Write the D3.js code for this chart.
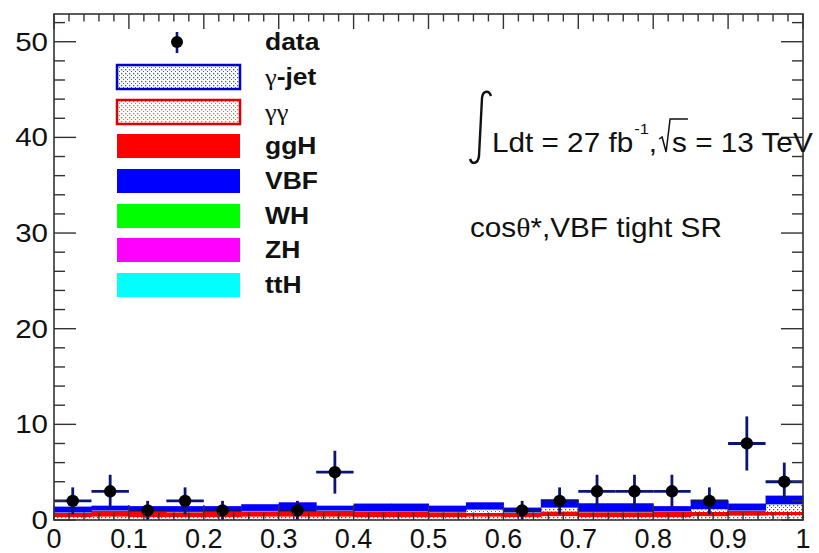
<!DOCTYPE html>
<html lang="en">
<head>
    <meta charset="UTF-8">
    <title>cos theta* VBF tight SR</title>
    <script src="https://d3js.org/d3.v7.min.js"></script>
    <style>
        body { margin: 0; background: white; font-family: "Liberation Sans", Arial, sans-serif; }
        svg { display: block; }
        .greek { font-family: "Liberation Serif", "DejaVu Serif", serif; font-weight: normal; }
    </style>
</head>
<body>
    <svg width="819" height="553"></svg>

    <script>
        const width = 819, height = 553;
        const svg = d3.select("svg");

        // bin low edges (width 0.05)
        const binLow = [0, 0.05, 0.1, 0.15, 0.2, 0.25, 0.3, 0.35, 0.4, 0.45,
                        0.5, 0.55, 0.6, 0.65, 0.7, 0.75, 0.8, 0.85, 0.9, 0.95];
        const binWidth = 0.05;

        // stacked backgrounds / signals
        const gamgam = [0.3, 0.35, 0.3, 0.3, 0.3, 0.35, 0.35, 0.35, 0.3, 0.3, 0.3, 0.35, 0.3, 0.4, 0.3, 0.3, 0.3, 0.4, 0.45, 0.5];
        const ggH    = [0.45, 0.6, 0.55, 0.5, 0.55, 0.55, 0.55, 0.6, 0.55, 0.55, 0.5, 0.4, 0.45, 0.5, 0.5, 0.5, 0.55, 0.45, 0.5, 0.35];
        const gamjet = [0, 0, 0, 0, 0, 0, 0, 0, 0, 0, 0, 0.3, 0, 0.35, 0, 0, 0, 0.25, 0, 0.75];
        const WH     = [0.02, 0.02, 0.02, 0.02, 0.02, 0.02, 0.02, 0.02, 0.02, 0.02, 0.02, 0.02, 0.02, 0.02, 0.02, 0.02, 0.02, 0.02, 0.02, 0.02];
        const ZH     = [0.02, 0.02, 0.02, 0.02, 0.02, 0.02, 0.02, 0.02, 0.02, 0.02, 0.02, 0.02, 0.02, 0.02, 0.02, 0.02, 0.02, 0.02, 0.02, 0.02];
        const ttH    = [0.01, 0.01, 0.01, 0.01, 0.01, 0.01, 0.01, 0.01, 0.01, 0.01, 0.01, 0.01, 0.01, 0.01, 0.01, 0.01, 0.01, 0.01, 0.01, 0.01];
        const VBF    = [0.6, 0.5, 0.55, 0.6, 0.55, 0.7, 0.9, 0.5, 0.82, 0.82, 0.65, 0.75, 0.5, 0.85, 0.9, 0.9, 0.55, 0.9, 0.72, 0.9];

        // data counts and their vertical errors
        const dataCounts = [2, 3, 1, 2, 1, 0, 1, 5, 0, 0, 0, 0, 1, 2, 3, 3, 3, 2, 8, 4];
        const dataErr    = [1.41, 1.73, 1, 1.41, 1, 0, 1, 2.24, 0, 0, 0, 0, 1, 1.41, 1.73, 1.73, 1.73, 1.41, 2.83, 2];

        const xTicks = [0, 0.1, 0.2, 0.3, 0.4, 0.5, 0.6, 0.7, 0.8, 0.9, 1];
        const yTicks = [0, 10, 20, 30, 40, 50];

        const legendNames = ["data", "γ-jet", "γγ", "ggH", "VBF", "WH", "ZH", "ttH"];

        const padL = 54, padR = 803, padT = 14, padB = 520;
        const x = d3.scaleLinear().domain([0, 1]).range([padL, padR]);
        const y = d3.scaleLinear().domain([0, 52.9]).range([padB, padT]);
        const ink = "#111";

        // text stretched horizontally (the ROOT canvas fonts are a bit wide)
        function label(parent, tx, ty, size, sx, anchor) {
            return parent.append("g").attr("transform", `translate(${tx},${ty}) scale(${sx},1)`)
                .append("text").attr("font-size", size).attr("fill", ink)
                .attr("text-anchor", anchor || "start");
        }

        // fill patterns (dotted hatch)
        const defs = svg.append("defs");
        function dotPattern(id, color) {
            const p = defs.append("pattern").attr("id", id)
                .attr("patternUnits", "userSpaceOnUse").attr("width", 4).attr("height", 4);
            p.append("rect").attr("width", 4).attr("height", 4).attr("fill", "white");
            p.append("rect").attr("x", 1).attr("y", 1).attr("width", 1.3).attr("height", 1.3).attr("fill", color);
            p.append("rect").attr("x", 3).attr("y", 3).attr("width", 1.3).attr("height", 1.3).attr("fill", color);
        }
        dotPattern("dotsBlk", "#555");
        dotPattern("dotsBlue", "#4455cc");
        dotPattern("dotsRed", "#dd6666");

        // stack, bottom to top
        const layers = [
            { key: "gamgam", vals: gamgam, fill: "url(#dotsBlk)" },
            { key: "ggH", vals: ggH, fill: "#ff0000" },
            { key: "gamjet", vals: gamjet, fill: "url(#dotsBlk)" },
            { key: "WH", vals: WH, fill: "#00ff00" },
            { key: "ZH", vals: ZH, fill: "#aa22aa" },
            { key: "ttH", vals: ttH, fill: "#00ffff" },
            { key: "VBF", vals: VBF, fill: "#0000ff" }
        ];
        const table = binLow.map((lo, i) => {
            const row = { lo: lo };
            layers.forEach(l => { row[l.key] = l.vals[i]; });
            return row;
        });
        const stack = d3.stack().keys(layers.map(l => l.key))(table);

        const plot = svg.append("g");
        stack.forEach((series, k) => {
            plot.append("g").selectAll("rect").data(series).join("rect")
                .attr("x", d => x(d.data.lo))
                .attr("width", d => x(d.data.lo + binWidth) - x(d.data.lo) + 0.5)
                .attr("y", d => y(d[1]))
                .attr("height", d => Math.max(0, y(d[0]) - y(d[1])))
                .attr("fill", layers[k].fill);
        });

        // data points with errors
        const errColor = "#0b1577";
        const pts = binLow.map((lo, i) => ({ xc: lo + binWidth / 2, n: dataCounts[i], e: dataErr[i] }))
            .filter(d => d.n > 0);
        const dg = svg.append("g");
        dg.selectAll(".ex").data(pts).join("line")
            .attr("x1", d => x(d.xc - binWidth / 2)).attr("x2", d => x(d.xc + binWidth / 2))
            .attr("y1", d => y(d.n)).attr("y2", d => y(d.n))
            .attr("stroke", errColor).attr("stroke-width", 2.8);
        dg.selectAll(".ey").data(pts).join("line")
            .attr("x1", d => x(d.xc)).attr("x2", d => x(d.xc))
            .attr("y1", d => y(d.n - d.e)).attr("y2", d => y(d.n + d.e))
            .attr("stroke", errColor).attr("stroke-width", 2.8);
        dg.selectAll("circle").data(pts).join("circle")
            .attr("cx", d => x(d.xc)).attr("cy", d => y(d.n)).attr("r", 6.2)
            .attr("fill", "#000");

        // frame and ticks
        const axisColor = "#333";
        svg.append("rect").attr("x", padL).attr("y", padT)
            .attr("width", padR - padL).attr("height", padB - padT)
            .attr("fill", "none").attr("stroke", axisColor).attr("stroke-width", 1.6);

        const tg = svg.append("g").attr("stroke", axisColor).attr("stroke-width", 1.4);
        const yMinor = d3.range(0, 53, 2);
        yMinor.forEach(v => {
            const len = v % 10 === 0 ? 22 : 11;
            tg.append("line").attr("x1", padL).attr("x2", padL + len).attr("y1", y(v)).attr("y2", y(v));
            tg.append("line").attr("x1", padR).attr("x2", padR - len).attr("y1", y(v)).attr("y2", y(v));
        });
        const xMinor = d3.range(0, 51).map(i => i / 50);
        xMinor.forEach((v, i) => {
            const len = i % 5 === 0 ? 15 : 7.5;
            tg.append("line").attr("x1", x(v)).attr("x2", x(v)).attr("y1", padT).attr("y2", padT + len);
            tg.append("line").attr("x1", x(v)).attr("x2", x(v)).attr("y1", padB).attr("y2", padB - len);
        });

        // tick labels
        const yl = svg.append("g");
        yTicks.forEach(v => {
            label(yl, 48, y(v) + 9, 25, 1.18, "end").text(v);
        });
        const xl = svg.append("g");
        xTicks.forEach(v => {
            label(xl, x(v), 548, 27, 1.0, "middle").text(v);
        });

        // legend
        const rowY = [42, 77, 112, 146, 181, 216, 250, 285];
        const legendFills = [null, "url(#dotsBlue)", "url(#dotsRed)", "#ff0000", "#0000ff", "#00ff00", "#ff00ff", "#00ffff"];
        const legendStroke = [null, "#0000cc", "#dd0000", null, null, null, null, null];
        const lg = svg.append("g");
        legendNames.forEach((name, i) => {
            const cy = rowY[i];
            if (i === 0) {
                lg.append("line").attr("x1", 177).attr("x2", 177).attr("y1", cy - 10).attr("y2", cy + 11)
                    .attr("stroke", errColor).attr("stroke-width", 2.6);
                lg.append("circle").attr("cx", 177).attr("cy", cy).attr("r", 6).attr("fill", "#000");
            } else {
                lg.append("rect").attr("x", 117).attr("y", cy - 12).attr("width", 123).attr("height", 24)
                    .attr("fill", legendFills[i])
                    .attr("stroke", legendStroke[i] || "none").attr("stroke-width", 2.5);
            }
            const t = label(lg, 265, cy + 8, 23, 1.15);
            if (name === "γ-jet") {
                t.append("tspan").attr("class", "greek").text("γ");
                t.append("tspan").attr("font-weight", "bold").text("-jet");
            } else if (name === "γγ") {
                t.append("tspan").attr("class", "greek").text(name);
            } else {
                t.attr("font-weight", "bold").text(name);
            }
        });

        // luminosity label
        svg.append("path")
            .attr("d", "M491,96 C489,90 483,90 482,98 L479,156 C478,164 472,165 470,159")
            .attr("fill", "none").attr("stroke", ink).attr("stroke-width", 2.4);

        const fs = 27, sx = 1.1, baseY = 152;
        let cx = 492;
        function put(str, size, dy) {
            const t = label(svg, cx, baseY + (dy || 0), size, sx).text(str);
            const w = t.node().getComputedTextLength() * sx;
            const x0 = cx;
            cx += w;
            return { x0: x0, w: w };
        }
        put("Ldt = 27 fb", fs);
        cx += 1;
        put("-1", 15, -18);
        put(",", fs);
        cx += 2;
        const rx = cx;
        cx += 13;
        const sPart = put("s", fs);
        svg.append("path")
            .attr("d", `M${rx},139 L${rx + 3},137 L${rx + 7},152 L${rx + 11},119 L${sPart.x0 + sPart.w + 1},119`)
            .attr("fill", "none").attr("stroke", ink).attr("stroke-width", 1.5);
        put("\u00A0= 13 TeV", fs);

        const cosT = label(svg, 470, 237, fs, 1.1);
        cosT.append("tspan").text("cos");
        cosT.append("tspan").attr("class", "greek").text("θ");
        cosT.append("tspan").text("*,VBF tight SR");
    </script>
</body>
</html>
